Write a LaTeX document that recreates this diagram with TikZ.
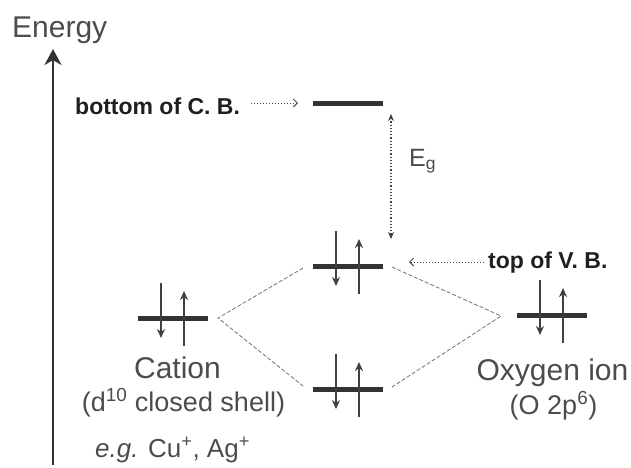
\documentclass[tikz,border=0pt]{standalone}
\usepackage{fontspec}
\setmainfont{Liberation Sans}
\usetikzlibrary{arrows.meta}
\begin{document}
\begin{tikzpicture}[x=1pt,y=-1pt,
  level/.style={line width=5pt, draw=black!80},
  spin/.style={line width=2.2pt, draw=black!75, -{Stealth[length=9pt,width=8pt]}},
  link/.style={line width=0.8pt, draw=black!55, dash pattern=on 4pt off 2pt},
  pointer/.style={line width=1pt, draw=black!70, dotted, -{Straight Barb[length=4pt,width=8pt]}},
  gaparrow/.style={line width=1.2pt, draw=black!75, dotted, {Stealth[length=7pt,width=6pt]}-{Stealth[length=7pt,width=6pt]}},
  axis/.style={line width=2.5pt, draw=black!80, -{Stealth[length=16pt,width=17pt,inset=5pt]}},
  lbl/.style={text=black!70, inner sep=0pt},
  boldlbl/.style={text=black!88, inner sep=0pt, font=\bfseries\fontsize{23}{27}\selectfont},
  big/.style={font=\fontsize{30}{36}\selectfont},
  mid/.style={font=\fontsize{27}{32}\selectfont},
  orbital/.pic={
    \draw[level] (0,0) -- (70,0);
    \draw[spin] (23,-35) -- (23,20);
    \draw[spin] (46,28) -- (46,-27);
  }
]
\useasboundingbox (0,0) rectangle (631,467);

% energy axis
\coordinate (axB) at (53,465);
\coordinate (axT) at (53,49);
\draw[axis] (axB) -- (axT);
\node[lbl, big, anchor=base west] (energy) at (12,37) {Energy};

% conduction band bottom
\coordinate (cbL) at (313,103);
\coordinate (cbR) at (383,103);
\draw[level] (cbL) -- (cbR);
\node[boldlbl, anchor=base west] (cbtext) at (75,114) {bottom of C. B.};
\coordinate (cbtail) at (251,103);
\coordinate (cbtip) at (298,103);
\draw[pointer] (cbtail) -- (cbtip);

% orbitals
\pic (ca) at (138,318) {orbital};
\pic (vb) at (313,266) {orbital};
\pic (lo) at (313,389) {orbital};
\pic (ox) at (517,315) {orbital};

% band gap
\coordinate (egT) at (391,114);
\coordinate (egB) at (391,239);
\draw[gaparrow] (egT) -- (egB);
\node[lbl, anchor=base west, font=\fontsize{25}{30}\selectfont] (eg) at (409,166) {E\textsubscript{g}};

% top of valence band
\node[boldlbl, anchor=base west] (vbtext) at (488,268) {top of V. B.};
\coordinate (vbtail) at (484,262);
\coordinate (vbtip) at (409,262);
\draw[pointer] (vbtail) -- (vbtip);

% connectors
\coordinate (caJ) at (218,318);
\coordinate (vbJl) at (303,268);
\coordinate (loJl) at (303,386);
\coordinate (vbJr) at (392,267);
\coordinate (loJr) at (392,387);
\coordinate (oxJ) at (501,316);
\draw[link] (vbJl) -- (caJ) -- (loJl);
\draw[link] (vbJr) -- (oxJ) -- (loJr);

% labels
\node[lbl, big, anchor=base] (cation) at (177.5,378) {Cation};
\node[lbl, mid, anchor=base] (cation2) at (183.5,411) {(d\textsuperscript{10} closed shell)};
\node[lbl, big, anchor=base] (oxygen) at (552.5,380) {Oxygen ion};
\node[lbl, mid, anchor=base] (oxygen2) at (553.5,414) {(O 2p\textsuperscript{6})};
\node[lbl, anchor=base west, font=\fontsize{26}{31}\selectfont] (eg2) at (95,457) {\textit{e.g.} Cu\textsuperscript{+}, Ag\textsuperscript{+}};
\end{tikzpicture}
\end{document}
